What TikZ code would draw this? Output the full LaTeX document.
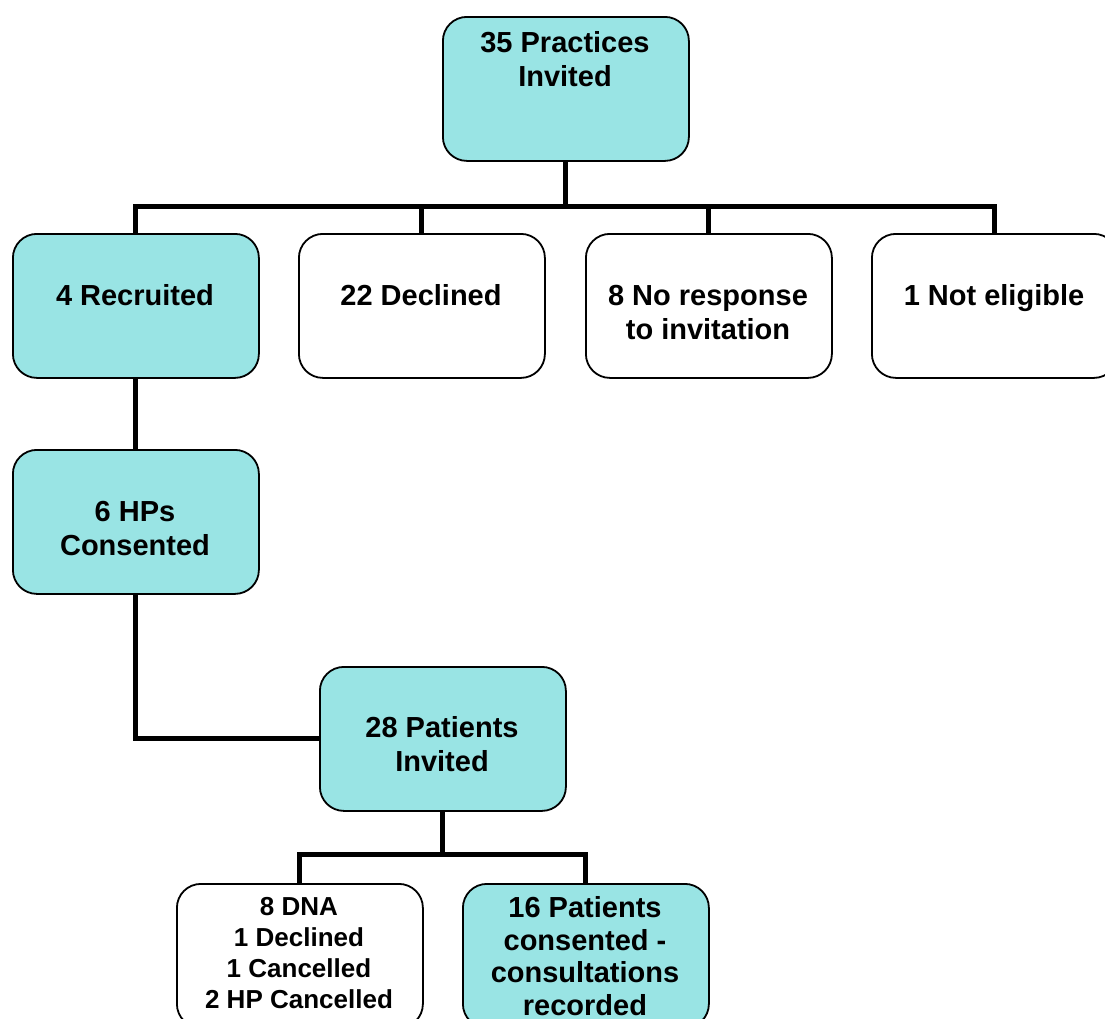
\documentclass[tikz,border=0pt]{standalone}
\usepackage{fontspec}
\setmainfont{Liberation Sans}
\usetikzlibrary{calc}
\definecolor{boxcyan}{RGB}{153,228,228}
\begin{document}
\begin{tikzpicture}[x=1pt,y=-1pt,
  box/.style={draw=black, line width=1.8pt, rounded corners=24pt,
    minimum width=246pt, minimum height=144pt, anchor=north west, inner sep=0pt},
  hl/.style={box, fill=boxcyan},
  plain/.style={box, fill=white},
  % labels are placed by the baseline of their last line
  lbl/.style={font=\bfseries\fontsize{29}{34}\selectfont, align=center,
    anchor=base, inner sep=0pt},
  lblsmall/.style={lbl, font=\bfseries\fontsize{26}{30.8}\selectfont},
  lblmid/.style={lbl, font=\bfseries\fontsize{29}{32.5}\selectfont},
  link/.style={line width=5pt}]
\useasboundingbox (0,0) rectangle (1105,1018);
\clip (0,0) rectangle (1105,1018);

% boxes
\node[hl]    (top) at (442,16)  {};
\node[hl]    (rec) at (12,233)  {};
\node[plain] (dec) at (298,233) {};
\node[plain] (nor) at (585,233) {};
\node[plain] (nel) at (871,233) {};
\node[hl]    (hps) at (12,449)  {};
\node[hl]    (pat) at (319,666) {};
\node[plain] (oth) at (176,883) {};
\node[hl]    (con) at (462,883) {};

% connectors
\coordinate (split) at ($(top.south)+(0,45)$);
\draw[link] (top.south) -- (split);
\draw[link] (rec.north) -- (rec.north |- split) -- (nel.north |- split) -- (nel.north);
\draw[link] (dec.north) -- (dec.north |- split);
\draw[link] (nor.north) -- (nor.north |- split);
\draw[link] (rec.south) -- (hps.north);
\draw[link] (hps.south) |- (pat.west);
\coordinate (split2) at ($(pat.south)+(0,43)$);
\draw[link] (pat.south) -- (split2);
\draw[link] (oth.north) -- (oth.north |- split2) -- (con.north |- split2) -- (con.north);

% labels
\node[lbl] (topt) at (565,86)  {35 Practices\\Invited};
\node[lbl] (rect) at (135,305) {4 Recruited};
\node[lbl] (dect) at (421,305) {22 Declined};
\node[lbl] (nort) at (708,339) {8 No response\\to invitation};
\node[lbl] (nelt) at (994,305) {1 Not eligible};
\node[lbl] (hpst) at (135,555) {6 HPs\\Consented};
\node[lbl] (patt) at (442,771) {28 Patients\\Invited};
\node[lblsmall] (otht) at (299,1008) {8 DNA\\1 Declined\\1 Cancelled\\2 HP Cancelled};
\node[lblmid] (cont) at (585,1015) {16 Patients\\consented -\\consultations\\recorded};
\end{tikzpicture}
\end{document}
